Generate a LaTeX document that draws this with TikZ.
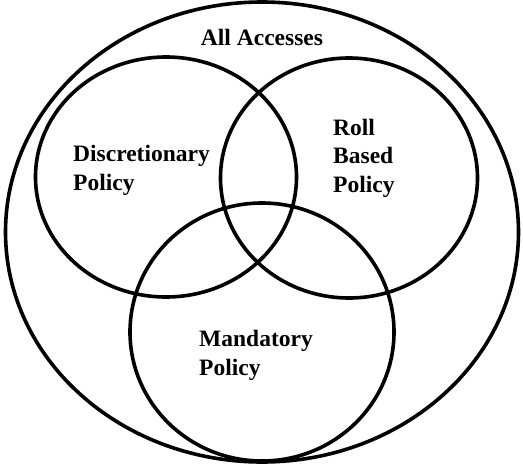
\documentclass[tikz,border=0pt]{standalone}
\usepackage{fontspec}
\setmainfont{Liberation Serif}
\usetikzlibrary{shapes.geometric}
\tikzset{
  setline/.style={draw=black, line width=3.6pt, ellipse, inner sep=0pt, outer sep=0pt},
  setlabel/.style={font=\fontsize{23.5}{28.5}\selectfont\bfseries, align=left, inner sep=0pt, anchor=base west}
}
\begin{document}
\begin{tikzpicture}[x=1pt, y=-1pt]
  \useasboundingbox (0,0) rectangle (523,466);
  % universe of all accesses
  \node[setline, minimum width=513pt, minimum height=460pt] (all) at (262,232) {};
  % the three policy sets
  \node[setline, minimum width=261pt, minimum height=240pt] (disc) at (166,177) {};
  \node[setline, minimum width=257pt, minimum height=240pt] (roll) at (349,178) {};
  \node[setline, minimum width=264pt, minimum height=258pt] (mand) at (262,332) {};
  % labels (base = last line)
  \node[setlabel, anchor=base] (alllabel) at (262,45) {All Accesses};
  \node[setlabel] (disclabel) at (73,190) {Discretionary\\Policy};
  \node[setlabel] (rolllabel) at (333,192) {Roll\\Based\\Policy};
  \node[setlabel] (mandlabel) at (199,375) {Mandatory\\Policy};
\end{tikzpicture}
\end{document}
